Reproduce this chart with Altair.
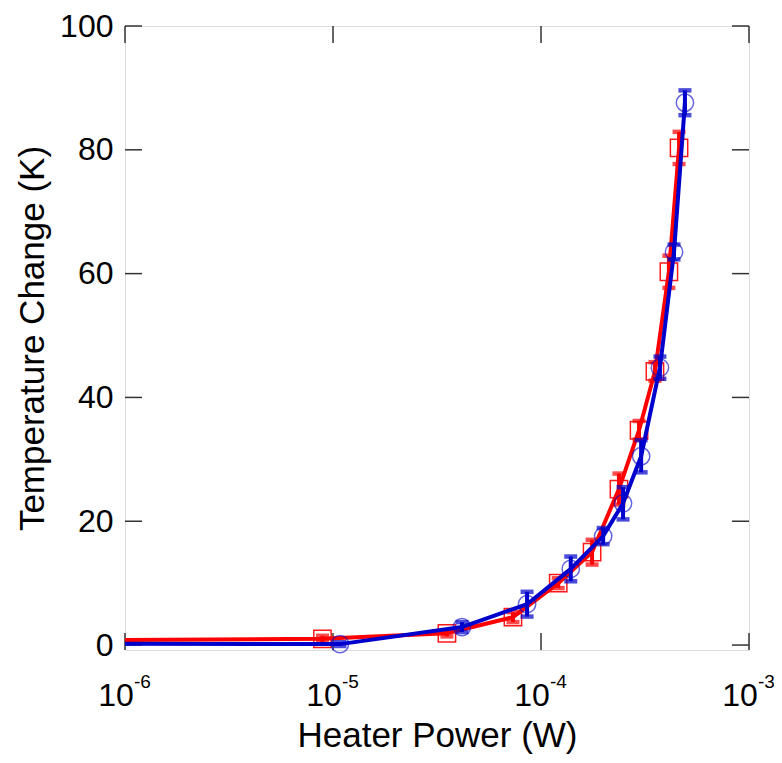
import altair as alt
import pandas as pd

# Red series (squares)
red_x = [8.9e-6, 3.53e-5, 7.33e-5, 1.21e-4, 1.76e-4, 2.37e-4, 2.96e-4, 3.53e-4, 4.12e-4, 4.61e-4]
red_y = [1.0, 1.9, 4.5, 10.0, 15.0, 25.2, 34.7, 44.2, 60.3, 80.3]
red_err = [0.5, 0.5, 0.8, 0.8, 2.0, 2.5, 1.5, 1.5, 2.6, 2.6]
red_start = (1e-6, 0.8)

# Blue series (circles)
blue_x = [1.08e-5, 4.17e-5, 8.57e-5, 1.39e-4, 1.99e-4, 2.48e-4, 3.03e-4, 3.73e-4, 4.36e-4, 4.92e-4]
blue_y = [0.15, 2.9, 6.6, 12.3, 17.6, 22.9, 30.5, 44.8, 63.5, 87.6]
blue_err = [0.3, 0.8, 2.0, 2.0, 1.3, 2.6, 2.6, 1.8, 1.2, 2.0]
blue_start = (1e-6, 0.2)

x_ticks = [1e-6, 1e-5, 1e-4, 1e-3]
x_exp = ["-6", "-5", "-4", "-3"]
y_ticks = [0, 20, 40, 60, 80, 100]

W, H = 624, 624
RED = "#ff0000"
BLUE = "#0000cc"
FONT = "Liberation Sans"

def series_df(xs, ys, es):
    return pd.DataFrame({"x": xs, "y": ys, "lo": [y - e for y, e in zip(ys, es)],
                         "hi": [y + e for y, e in zip(ys, es)]})

red_df = series_df(red_x, red_y, red_err)
blue_df = series_df(blue_x, blue_y, blue_err)
red_line_df = pd.DataFrame({"x": [red_start[0]] + red_x, "y": [red_start[1]] + red_y})
blue_line_df = pd.DataFrame({"x": [blue_start[0]] + blue_x, "y": [blue_start[1]] + blue_y})

xscale = alt.Scale(type="log", domain=[1e-6, 1e-3], nice=False)
yscale = alt.Scale(domain=[-0.8, 100], nice=False, zero=False)

xaxis = alt.Axis(values=x_ticks, labelExpr="'10'", labelOffset=-9.5, labelFont=FONT,
                 labelFontSize=32, labelColor="black", labelBaseline="alphabetic",
                 labelPadding=55, ticks=False, tickSize=0, domain=False, grid=False,
                 title="Heater Power (W)", titleFont=FONT, titleFontSize=35,
                 titleFontWeight="normal", titleColor="black", titleBaseline="alphabetic",
                 titleY=96, labelFlush=False, labelOverlap=False)
yaxis = alt.Axis(values=y_ticks, labelFont=FONT, labelFontSize=32, labelColor="black",
                 labelPadding=12, ticks=False, tickSize=0, domain=False, grid=False,
                 title="Temperature Change (K)", titleFont=FONT, titleFontSize=35,
                 titleFontWeight="normal", titleColor="black", titleBaseline="alphabetic",
                 titleX=-82, titleY=H / 2, titleAngle=-90, labelFlush=False,
                 labelOverlap=False)

X = alt.X("x:Q", scale=xscale, axis=xaxis)
Y = alt.Y("y:Q", scale=yscale, axis=yaxis)

def layers(line_df, df, color, shape, stroke_op):
    line = alt.Chart(line_df).mark_line(color=color, strokeWidth=4, clip=True).encode(
        x=alt.X("x:Q", scale=xscale), y=alt.Y("y:Q", scale=yscale))
    rule = alt.Chart(df).mark_rule(color=color, strokeWidth=4).encode(
        x=alt.X("x:Q", scale=xscale), y=alt.Y("lo:Q", scale=yscale), y2="hi:Q")
    cap_lo = alt.Chart(df).mark_tick(color=color, thickness=4.5, size=13, orient="horizontal").encode(
        x=alt.X("x:Q", scale=xscale), y=alt.Y("lo:Q", scale=yscale))
    cap_hi = alt.Chart(df).mark_tick(color=color, thickness=4.5, size=13, orient="horizontal").encode(
        x=alt.X("x:Q", scale=xscale), y=alt.Y("hi:Q", scale=yscale))
    pts = alt.Chart(df).mark_point(shape=shape, size=300, filled=False, color=color,
                                   strokeWidth=1.5, opacity=stroke_op).encode(
        x=alt.X("x:Q", scale=xscale), y=alt.Y("y:Q", scale=yscale))
    return [line, rule, cap_lo, cap_hi, pts]

axes = alt.Chart(pd.DataFrame({"x": [1e-6], "y": [0]})).mark_point(opacity=0).encode(x=X, y=Y)

tick_df_x = pd.DataFrame({"x": x_ticks})
tick_df_y = pd.DataFrame({"y": y_ticks})
tcol = "#333333"
tb = alt.Chart(tick_df_x).mark_rule(color=tcol, strokeWidth=1.5).encode(
    x=alt.X("x:Q", scale=xscale), y=alt.value(H), y2=alt.value(H - 17))
tt = alt.Chart(tick_df_x).mark_rule(color=tcol, strokeWidth=1.5).encode(
    x=alt.X("x:Q", scale=xscale), y=alt.value(0), y2=alt.value(17))
tl = alt.Chart(tick_df_y).mark_rule(color=tcol, strokeWidth=1.5).encode(
    y=alt.Y("y:Q", scale=yscale), x=alt.value(0), x2=alt.value(17))
tr = alt.Chart(tick_df_y).mark_rule(color=tcol, strokeWidth=1.5).encode(
    y=alt.Y("y:Q", scale=yscale), x=alt.value(W - 17), x2=alt.value(W))

exp_df = pd.DataFrame({"x": x_ticks, "t": x_exp})
exps = alt.Chart(exp_df).mark_text(font=FONT, fontSize=19, color="black", align="left",
                                   baseline="alphabetic", dx=9).encode(
    x=alt.X("x:Q", scale=xscale), y=alt.value(H + 38), text="t:N")

chart = alt.layer(
    axes, tb, tt, tl, tr,
    *layers(red_line_df, red_df, RED, "square", 0.9),
    *layers(blue_line_df, blue_df, BLUE, "circle", 0.6),
    exps,
).properties(
    width=W, height=H,
    autosize=alt.AutoSizeParams(type="none"),
    padding={"left": 117, "top": 18, "right": 25, "bottom": 111},
).configure_view(stroke="#333333", strokeWidth=1.5).configure(background="white")

chart.save("out.html", embed_options={"renderer": "svg", "actions": False})
